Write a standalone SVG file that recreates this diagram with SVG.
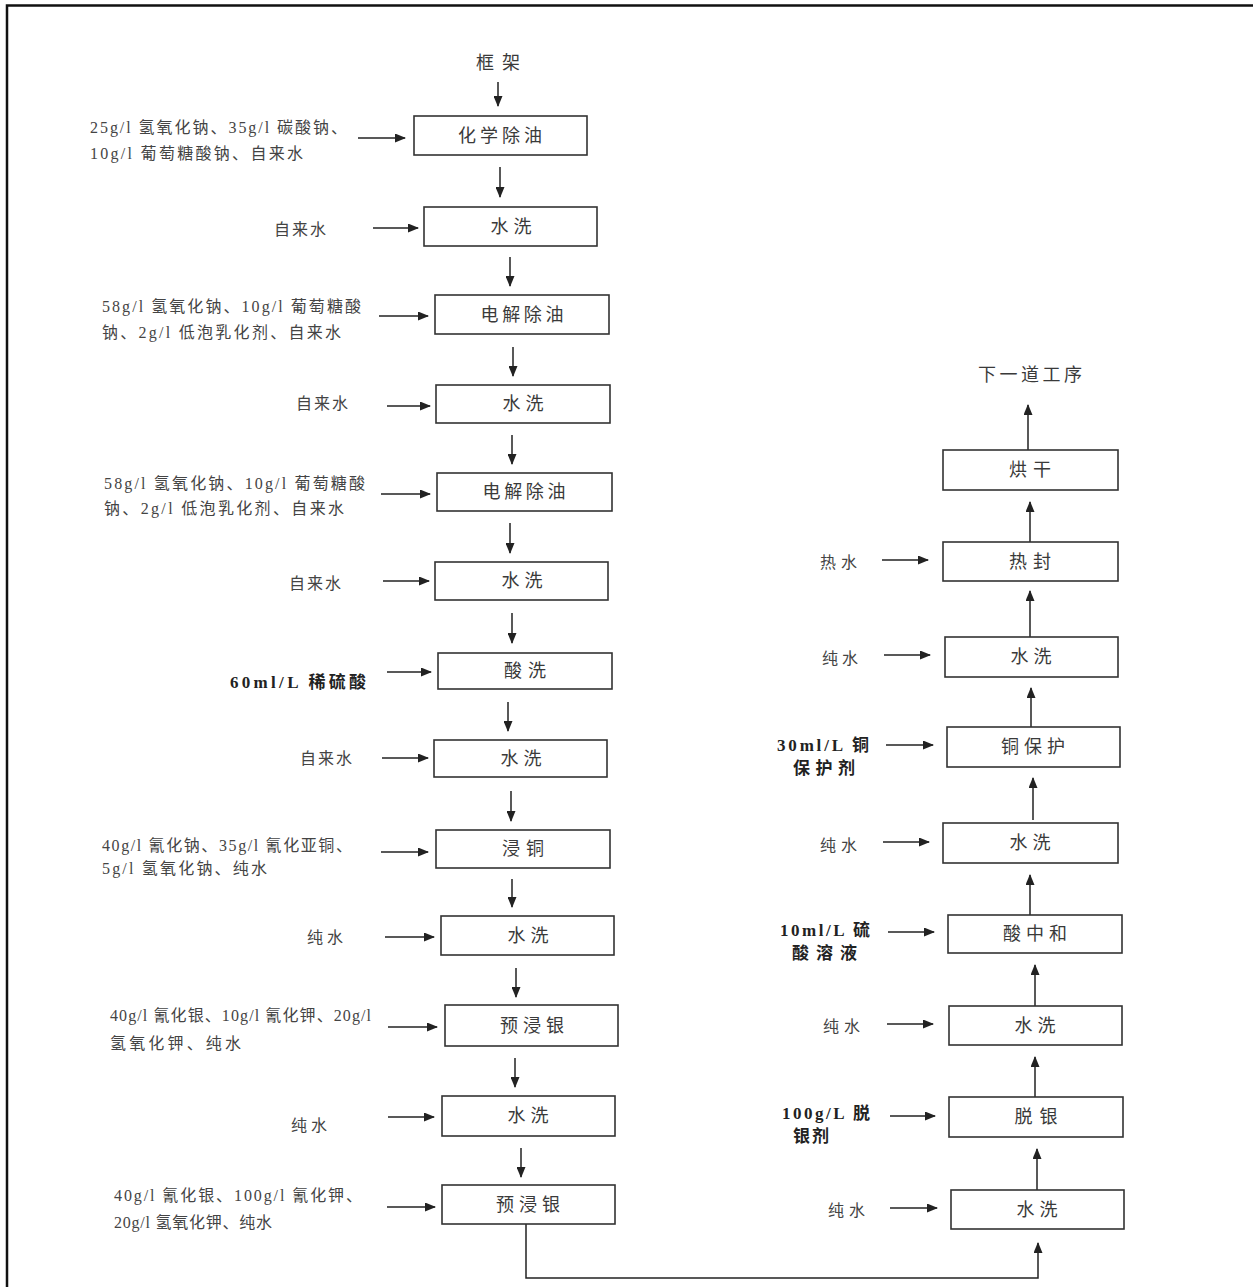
<svg xmlns="http://www.w3.org/2000/svg" width="1253" height="1287" viewBox="0 0 1253 1287">
<style>
.box{fill:#fff;stroke:#333;stroke-width:1.6}
text{font-family:"Liberation Serif","Noto Sans CJK SC",serif}
.bt{font-size:18px;fill:#3a3a3a;text-anchor:middle}
.lb{font-size:16px;fill:#444}
.lbb{font-size:17px;fill:#222;font-weight:bold}
.ar{stroke:#222;stroke-width:1.5;fill:none;marker-end:url(#ah)}
</style>
<defs>
<marker id="ah" markerUnits="userSpaceOnUse" markerWidth="11" markerHeight="9" refX="10" refY="4.5" orient="auto">
<path d="M0,0 L11,4.5 L0,9 z" fill="#222"/>
</marker>
</defs>
<rect width="1253" height="1287" fill="#fff"/>
<path d="M7,1287 L7,5.5 L1253,5.5" fill="none" stroke="#111" stroke-width="2.5"/>

<g id="connectors">
<line class="ar" x1="498" y1="82" x2="498" y2="106"/>
<line class="ar" x1="500" y1="167" x2="500" y2="197"/>
<line class="ar" x1="510" y1="257" x2="510" y2="286"/>
<line class="ar" x1="513" y1="347" x2="513" y2="376"/>
<line class="ar" x1="512" y1="435" x2="512" y2="464"/>
<line class="ar" x1="510" y1="523" x2="510" y2="553"/>
<line class="ar" x1="512" y1="613" x2="512" y2="643"/>
<line class="ar" x1="508" y1="702" x2="508" y2="731"/>
<line class="ar" x1="511" y1="791" x2="511" y2="821"/>
<line class="ar" x1="512" y1="879" x2="512" y2="907"/>
<line class="ar" x1="516" y1="968" x2="516" y2="997"/>
<line class="ar" x1="515" y1="1058" x2="515" y2="1087"/>
<line class="ar" x1="521" y1="1148" x2="521" y2="1177"/>
<polyline class="ar" points="526,1224 526,1278 1038,1278 1038,1243"/>
<line class="ar" x1="1037" y1="1190" x2="1037" y2="1149"/>
<line class="ar" x1="1035" y1="1097" x2="1035" y2="1057"/>
<line class="ar" x1="1035" y1="1006" x2="1035" y2="965"/>
<line class="ar" x1="1030" y1="915" x2="1030" y2="875"/>
<line class="ar" x1="1033" y1="820" x2="1033" y2="778"/>
<line class="ar" x1="1031" y1="727" x2="1031" y2="688"/>
<line class="ar" x1="1030" y1="637" x2="1030" y2="591"/>
<line class="ar" x1="1030" y1="542" x2="1030" y2="502"/>
<line class="ar" x1="1028" y1="450" x2="1028" y2="405"/>
<line class="ar" x1="358" y1="138" x2="405" y2="138"/>
<line class="ar" x1="373" y1="228" x2="418" y2="228"/>
<line class="ar" x1="379" y1="316" x2="428" y2="316"/>
<line class="ar" x1="387" y1="406" x2="430" y2="406"/>
<line class="ar" x1="381" y1="494" x2="430" y2="494"/>
<line class="ar" x1="383" y1="581" x2="429" y2="581"/>
<line class="ar" x1="387" y1="672" x2="431" y2="672"/>
<line class="ar" x1="382" y1="758" x2="428" y2="758"/>
<line class="ar" x1="381" y1="852" x2="428" y2="852"/>
<line class="ar" x1="385" y1="937" x2="434" y2="937"/>
<line class="ar" x1="388" y1="1027" x2="437" y2="1027"/>
<line class="ar" x1="388" y1="1117" x2="434" y2="1117"/>
<line class="ar" x1="387" y1="1207" x2="435" y2="1207"/>
<line class="ar" x1="882" y1="560" x2="928" y2="560"/>
<line class="ar" x1="884" y1="655" x2="930" y2="655"/>
<line class="ar" x1="886" y1="745" x2="933" y2="745"/>
<line class="ar" x1="883" y1="842" x2="929" y2="842"/>
<line class="ar" x1="888" y1="932" x2="934" y2="932"/>
<line class="ar" x1="887" y1="1024" x2="933" y2="1024"/>
<line class="ar" x1="890" y1="1116" x2="935" y2="1116"/>
<line class="ar" x1="890" y1="1208" x2="937" y2="1208"/>
</g>

<g id="start"><text class="bt" x="498" y="69" textLength="44">框架</text></g>

<g id="n1"><rect class="box" x="414" y="116" width="173" height="39"/><text class="bt" x="500" y="142" textLength="84">化学除油</text></g>
<g id="n2"><rect class="box" x="424" y="207" width="173" height="39"/><text class="bt" x="511" y="233" textLength="41">水洗</text></g>
<g id="n3"><rect class="box" x="435" y="295" width="174" height="39"/><text class="bt" x="522" y="321" textLength="83">电解除油</text></g>
<g id="n4"><rect class="box" x="436" y="385" width="174" height="38"/><text class="bt" x="523" y="410" textLength="41">水洗</text></g>
<g id="n5"><rect class="box" x="437" y="473" width="175" height="38"/><text class="bt" x="524" y="498" textLength="83">电解除油</text></g>
<g id="n6"><rect class="box" x="435" y="562" width="173" height="38"/><text class="bt" x="522" y="587" textLength="41">水洗</text></g>
<g id="n7"><rect class="box" x="438" y="653" width="174" height="36"/><text class="bt" x="525" y="677" textLength="42">酸洗</text></g>
<g id="n8"><rect class="box" x="434" y="740" width="173" height="37"/><text class="bt" x="521" y="765" textLength="41">水洗</text></g>
<g id="n9"><rect class="box" x="436" y="830" width="174" height="38"/><text class="bt" x="523" y="855" textLength="42">浸铜</text></g>
<g id="n10"><rect class="box" x="441" y="916" width="173" height="39"/><text class="bt" x="528" y="942" textLength="41">水洗</text></g>
<g id="n11"><rect class="box" x="445" y="1005" width="173" height="41"/><text class="bt" x="532" y="1032" textLength="64">预浸银</text></g>
<g id="n12"><rect class="box" x="442" y="1096" width="173" height="40"/><text class="bt" x="528" y="1122" textLength="41">水洗</text></g>
<g id="n13"><rect class="box" x="442" y="1185" width="173" height="39"/><text class="bt" x="528" y="1211" textLength="64">预浸银</text></g>

<g id="r1"><rect class="box" x="951" y="1190" width="173" height="39"/><text class="bt" x="1037" y="1216" textLength="41">水洗</text></g>
<g id="r2"><rect class="box" x="949" y="1097" width="174" height="40"/><text class="bt" x="1036" y="1123" textLength="43">脱银</text></g>
<g id="r3"><rect class="box" x="949" y="1006" width="173" height="39"/><text class="bt" x="1035" y="1032" textLength="41">水洗</text></g>
<g id="r4"><rect class="box" x="948" y="915" width="174" height="38"/><text class="bt" x="1035" y="940" textLength="64">酸中和</text></g>
<g id="r5"><rect class="box" x="943" y="823" width="175" height="40"/><text class="bt" x="1030" y="849" textLength="41">水洗</text></g>
<g id="r6"><rect class="box" x="947" y="727" width="173" height="40"/><text class="bt" x="1033" y="753" textLength="64">铜保护</text></g>
<g id="r7"><rect class="box" x="945" y="637" width="173" height="40"/><text class="bt" x="1031" y="663" textLength="41">水洗</text></g>
<g id="r8"><rect class="box" x="943" y="542" width="175" height="39"/><text class="bt" x="1030" y="568" textLength="42">热封</text></g>
<g id="r9"><rect class="box" x="943" y="450" width="175" height="40"/><text class="bt" x="1030" y="476" textLength="42">烘干</text></g>
<g id="end"><text class="bt" x="1030" y="381" textLength="104">下一道工序</text></g>

<g id="labels-left">
<text class="lb" x="90" y="133" textLength="257">25g/l 氢氧化钠、35g/l 碳酸钠、</text>
<text class="lb" x="90" y="159" textLength="213">10g/l 葡萄糖酸钠、自来水</text>
<text class="lb" x="274" y="235" textLength="52">自来水</text>
<text class="lb" x="102" y="312" textLength="259">58g/l 氢氧化钠、10g/l 葡萄糖酸</text>
<text class="lb" x="102" y="338" textLength="239">钠、2g/l 低泡乳化剂、自来水</text>
<text class="lb" x="296" y="409" textLength="52">自来水</text>
<text class="lb" x="104" y="489" textLength="261">58g/l 氢氧化钠、10g/l 葡萄糖酸</text>
<text class="lb" x="104" y="514" textLength="240">钠、2g/l 低泡乳化剂、自来水</text>
<text class="lb" x="289" y="589" textLength="52">自来水</text>
<text class="lbb" x="230" y="688" textLength="136">60ml/L 稀硫酸</text>
<text class="lb" x="300" y="764" textLength="52">自来水</text>
<text class="lb" x="102" y="851" textLength="250">40g/l 氰化钠、35g/l 氰化亚铜、</text>
<text class="lb" x="102" y="874" textLength="165">5g/l 氢氧化钠、纯水</text>
<text class="lb" x="307" y="943" textLength="36">纯水</text>
<text class="lb" x="110" y="1021" textLength="261">40g/l 氰化银、10g/l 氰化钾、20g/l</text>
<text class="lb" x="110" y="1049" textLength="131">氢氧化钾、纯水</text>
<text class="lb" x="291" y="1131" textLength="36">纯水</text>
<text class="lb" x="114" y="1201" textLength="248">40g/l 氰化银、100g/l 氰化钾、</text>
<text class="lb" x="114" y="1228" textLength="158">20g/l 氢氧化钾、纯水</text>
</g>

<g id="labels-right">
<text class="lb" x="820" y="568" textLength="37">热水</text>
<text class="lb" x="822" y="664" textLength="36">纯水</text>
<text class="lbb" x="777" y="751" textLength="92">30ml/L 铜</text>
<text class="lbb" x="793" y="774" textLength="62">保护剂</text>
<text class="lb" x="820" y="851" textLength="37">纯水</text>
<text class="lbb" x="780" y="936" textLength="90">10ml/L 硫</text>
<text class="lbb" x="792" y="959" textLength="65">酸溶液</text>
<text class="lb" x="823" y="1032" textLength="37">纯水</text>
<text class="lbb" x="782" y="1119" textLength="88">100g/L 脱</text>
<text class="lbb" x="793" y="1142" textLength="36">银剂</text>
<text class="lb" x="828" y="1216" textLength="37">纯水</text>
</g>
</svg>
